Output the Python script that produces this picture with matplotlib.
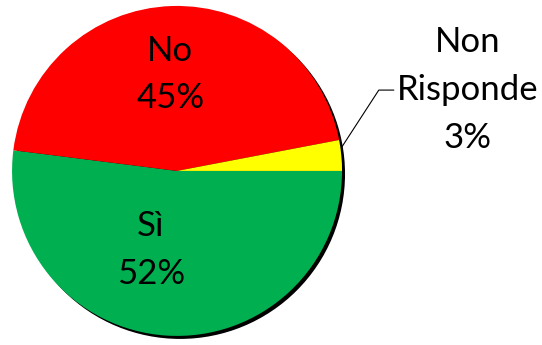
import numpy as np
import matplotlib.pyplot as plt
import matplotlib.transforms as mtransforms
from matplotlib.patches import Circle

risposte = ['Sì', 'No', 'Non\nRisponde']
percentuali = [52, 45, 3]
colori = ['#00B050', '#FF0000', '#FFFF00']

plt.rcParams['font.family'] = ['Lato', 'DejaVu Sans']

fig = plt.figure(figsize=(5.42, 3.45), dpi=100)
ax = fig.add_axes([0, 0, 1, 1])

# ombra nera spostata in basso a destra
ombra = mtransforms.offset_copy(ax.transData, fig=fig, x=3, y=-3, units='dots')
ax.add_patch(Circle((0, 0), 1.0, facecolor='black', edgecolor='none',
                    transform=ombra, zorder=0))

wedges, _ = ax.pie(percentuali, colors=colori, startangle=0, counterclock=False,
                   radius=1.0, wedgeprops=dict(linewidth=0, zorder=1))

etichette = [f'{r}\n{p}%' for r, p in zip(risposte, percentuali)]
kw = dict(ha='center', va='center', fontsize=25, linespacing=1.6, zorder=3)
ax.text(-0.16, -0.48, etichette[0], **kw)
ax.text(-0.04, 0.585, etichette[1], **kw)

# etichetta esterna con linea guida
w = wedges[2]
ang = np.deg2rad((w.theta1 + w.theta2) / 2)
ax.annotate(etichette[2], xy=(np.cos(ang) * 1.0, 0.14),
            xytext=(1.76, 0.49), ha='center', va='center', fontsize=25,
            linespacing=1.6, zorder=3,
            arrowprops=dict(arrowstyle='-', color='black', lw=0.8,
                            connectionstyle='angle,angleA=0,angleB=57,rad=0',
                            shrinkA=0, shrinkB=0, relpos=(0, 0.5)))

ax.set_xlim(-1.073, 2.212)
ax.set_ylim(-1.055, 1.036)
ax.set_aspect('auto')
ax.axis('off')

fig.savefig('out.png', dpi=100)
